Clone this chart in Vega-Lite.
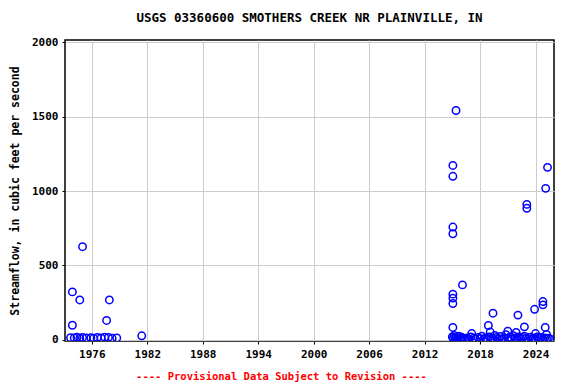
{
  "$schema": "https://vega.github.io/schema/vega-lite/v6.json",
  "autosize": {"type": "none"},
  "width": 489,
  "height": 301,
  "padding": {"left": 65, "top": 40, "right": 22, "bottom": 43},
  "background": "white",
  "title": {
    "text": "USGS 03360600 SMOTHERS CREEK NR PLAINVILLE, IN",
    "font": "DejaVu Sans Mono",
    "fontSize": 12.5,
    "fontWeight": "bold",
    "color": "black",
    "anchor": "middle",
    "offset": 12
  },
  "config": {
    "view": {"stroke": "black", "strokeWidth": 1.5},
    "axis": {
      "labelFont": "DejaVu Sans Mono",
      "labelFontWeight": "bold",
      "labelFontSize": 11,
      "labelColor": "black",
      "titleFont": "DejaVu Sans Mono",
      "titleFontWeight": "bold",
      "gridColor": "#cccccc",
      "gridWidth": 1,
      "domain": false,
      "tickColor": "black",
      "tickSize": 3
    }
  },
  "data": {
    "values": [
      {"year": 1975.0, "flow": 626},
      {"year": 1973.9, "flow": 322},
      {"year": 1974.7, "flow": 268},
      {"year": 1977.9, "flow": 268},
      {"year": 1973.9, "flow": 98},
      {"year": 1977.6, "flow": 130},
      {"year": 1981.4, "flow": 27},
      {"year": 1973.7, "flow": 14},
      {"year": 1974.1, "flow": 12},
      {"year": 1974.4, "flow": 18},
      {"year": 1974.7, "flow": 10},
      {"year": 1975.0, "flow": 16},
      {"year": 1975.4, "flow": 12},
      {"year": 1975.9, "flow": 14},
      {"year": 1976.2, "flow": 10},
      {"year": 1976.6, "flow": 15},
      {"year": 1977.0, "flow": 12},
      {"year": 1977.4, "flow": 18},
      {"year": 1977.8, "flow": 16},
      {"year": 1978.2, "flow": 10},
      {"year": 1978.7, "flow": 12},
      {"year": 2015.4, "flow": 1541},
      {"year": 2015.06, "flow": 1172},
      {"year": 2015.06, "flow": 1099},
      {"year": 2015.06, "flow": 758},
      {"year": 2015.06, "flow": 713},
      {"year": 2025.3, "flow": 1159},
      {"year": 2025.1, "flow": 1018},
      {"year": 2023.06, "flow": 910},
      {"year": 2023.06, "flow": 884},
      {"year": 2016.1, "flow": 369},
      {"year": 2015.06, "flow": 307},
      {"year": 2015.06, "flow": 280},
      {"year": 2015.06, "flow": 244},
      {"year": 2019.4, "flow": 179},
      {"year": 2022.1, "flow": 166},
      {"year": 2023.9, "flow": 205},
      {"year": 2024.8, "flow": 257},
      {"year": 2024.8, "flow": 235},
      {"year": 2015.06, "flow": 83},
      {"year": 2018.9, "flow": 96},
      {"year": 2022.8, "flow": 87},
      {"year": 2025.05, "flow": 83},
      {"year": 2021.0, "flow": 58},
      {"year": 2017.1, "flow": 42},
      {"year": 2024.0, "flow": 42},
      {"year": 2021.9, "flow": 50},
      {"year": 2019.1, "flow": 52},
      {"year": 2025.2, "flow": 36},
      {"year": 2025.4, "flow": 11},
      {"year": 2015.0, "flow": 20},
      {"year": 2015.1, "flow": 10},
      {"year": 2015.2, "flow": 30},
      {"year": 2015.3, "flow": 8},
      {"year": 2015.4, "flow": 15},
      {"year": 2015.5, "flow": 5},
      {"year": 2015.6, "flow": 12},
      {"year": 2015.7, "flow": 25},
      {"year": 2015.8, "flow": 6},
      {"year": 2015.9, "flow": 10},
      {"year": 2016.0, "flow": 18},
      {"year": 2016.2, "flow": 8},
      {"year": 2016.4, "flow": 4},
      {"year": 2016.6, "flow": 12},
      {"year": 2016.8, "flow": 6},
      {"year": 2017.0, "flow": 20},
      {"year": 2017.3, "flow": 10},
      {"year": 2017.5, "flow": 5},
      {"year": 2017.8, "flow": 15},
      {"year": 2018.0, "flow": 8},
      {"year": 2018.2, "flow": 25},
      {"year": 2018.4, "flow": 6},
      {"year": 2018.6, "flow": 12},
      {"year": 2018.8, "flow": 4},
      {"year": 2019.0, "flow": 20},
      {"year": 2019.2, "flow": 10},
      {"year": 2019.4, "flow": 6},
      {"year": 2019.6, "flow": 30},
      {"year": 2019.8, "flow": 15},
      {"year": 2020.0, "flow": 8},
      {"year": 2020.2, "flow": 22},
      {"year": 2020.4, "flow": 5},
      {"year": 2020.6, "flow": 12},
      {"year": 2020.8, "flow": 35},
      {"year": 2021.0, "flow": 10},
      {"year": 2021.2, "flow": 18},
      {"year": 2021.4, "flow": 6},
      {"year": 2021.6, "flow": 28},
      {"year": 2021.8, "flow": 12},
      {"year": 2022.0, "flow": 8},
      {"year": 2022.2, "flow": 20},
      {"year": 2022.4, "flow": 5},
      {"year": 2022.6, "flow": 15},
      {"year": 2022.8, "flow": 25},
      {"year": 2023.0, "flow": 10},
      {"year": 2023.2, "flow": 6},
      {"year": 2023.4, "flow": 18},
      {"year": 2023.6, "flow": 8},
      {"year": 2023.8, "flow": 12},
      {"year": 2024.0, "flow": 5},
      {"year": 2024.2, "flow": 20},
      {"year": 2024.4, "flow": 10},
      {"year": 2024.6, "flow": 15},
      {"year": 2024.8, "flow": 6},
      {"year": 2025.0, "flow": 12},
      {"year": 2025.2, "flow": 8},
      {"year": 2025.6, "flow": 5}
    ]
  },
  "mark": {"type": "point", "shape": "circle", "filled": false, "color": "blue", "opacity": 1, "size": 55, "strokeWidth": 1.5, "clip": true},
  "encoding": {
    "x": {
      "field": "year",
      "type": "quantitative",
      "scale": {"domain": [1973.1, 2026.0], "nice": false, "zero": false},
      "axis": {
        "values": [1976, 1982, 1988, 1994, 2000, 2006, 2012, 2018, 2024],
        "format": "d",
        "title": "---- Provisional Data Subject to Revision ----",
        "titleColor": "red",
        "titleFontSize": 10.5,
        "titlePadding": 12,
        "titleX": 216,
        "titleAnchor": "middle",
        "labelPadding": 4
      }
    },
    "y": {
      "field": "flow",
      "type": "quantitative",
      "scale": {"domain": [-8, 2015], "nice": false, "zero": false},
      "axis": {
        "values": [0, 500, 1000, 1500, 2000],
        "format": "d",
        "title": "Streamflow, in cubic feet per second",
        "titleFontSize": 11.5,
        "titleColor": "black",
        "titlePadding": 11,
        "labelPadding": 4
      }
    }
  }
}
